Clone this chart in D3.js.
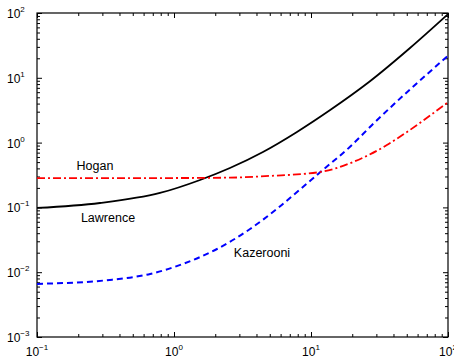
<!DOCTYPE html>
<html>
<head>
<meta charset="utf-8">
<script src="https://cdn.jsdelivr.net/npm/d3@7"></script>
<style>
    body { margin: 0; background: #fff; }
    text { font-family: "Liberation Sans", Arial, sans-serif; fill: #000; }
</style>
</head>
<body>
<script>
// values
const lawrenceX = [0.1, 0.288, 0.79, 1.55, 2.56, 4.46, 7.9, 13.8, 26.5, 52.8, 100];
const lawrenceY = [0.098, 0.117, 0.167, 0.265, 0.405, 0.716, 1.46, 3.18, 8.6, 28.8, 96];

const kazerooniX = [0.1, 0.34, 0.67, 1.16, 2.06, 3.59, 5.75, 8.73, 12.2, 19.2, 27.9, 100];
const kazerooniY = [0.0066, 0.0076, 0.0094, 0.0134, 0.0228, 0.0464, 0.098, 0.207, 0.378, 0.855, 1.87, 22];

const hoganX = [0.1, 1, 2.56, 5, 11.7, 20.3, 35.8, 43.2, 100];
const hoganY = [0.284, 0.284, 0.288, 0.306, 0.352, 0.502, 0.918, 1.18, 4.2];

const xExponents = [-1, 0, 1, 2];
const yExponents = [-3, -2, -1, 0, 1, 2];

const seriesNames = ["Lawrence", "Kazerooni", "Hogan"];
const labelAt = [[0.33, 0.0596], [4.39, 0.0172], [0.265, 0.378]];  // data coords of the text labels (baseline)

const W = 454, H = 363;
const plot = { left: 37, right: 448, top: 13, bottom: 337 };

const svg = d3.select("body").append("svg")
    .attr("width", W)
    .attr("height", H);

const x = d3.scaleLog().domain([0.1, 100]).range([plot.left, plot.right]);
const y = d3.scaleLog().domain([1e-3, 1e2]).range([plot.bottom, plot.top]);

const majorX = xExponents.map(e => Math.pow(10, e));
const majorY = yExponents.map(e => Math.pow(10, e));
const minorX = x.ticks().filter(t => !majorX.some(m => Math.abs(m - t) < 1e-9));
const minorY = y.ticks().filter(t => !majorY.some(m => Math.abs(m - t) < 1e-9));

// ticks inside the box, on all four sides
function tickAxis(axisFn, scale, vals, size, transform) {
    const g = svg.append("g")
        .attr("transform", transform)
        .call(axisFn(scale).tickValues(vals).tickSizeInner(-size).tickSizeOuter(0).tickFormat(""));
    g.select(".domain").remove();
    g.selectAll("line").attr("stroke", "#000").attr("stroke-width", 1);
}

[[minorX, 3], [majorX, 5]].forEach(([vals, s]) => {
    tickAxis(d3.axisBottom, x, vals, s, "translate(0," + plot.bottom + ")");
    tickAxis(d3.axisTop, x, vals, s, "translate(0," + plot.top + ")");
});
[[minorY, 3], [majorY, 5]].forEach(([vals, s]) => {
    tickAxis(d3.axisLeft, y, vals, s, "translate(" + plot.left + ",0)");
    tickAxis(d3.axisRight, y, vals, s, "translate(" + plot.right + ",0)");
});

svg.append("rect")
    .attr("x", plot.left)
    .attr("y", plot.top)
    .attr("width", plot.right - plot.left)
    .attr("height", plot.bottom - plot.top)
    .attr("fill", "none")
    .attr("stroke", "#000")
    .attr("stroke-width", 1.2);

// tick labels 10^n
const xl = svg.selectAll(".xlab")
    .data(xExponents)
    .enter().append("text")
    .attr("class", "xlab")
    .attr("x", e => x(Math.pow(10, e)))
    .attr("y", 356)
    .attr("text-anchor", "middle")
    .style("font-size", "12px");
xl.append("tspan").text("10");
xl.append("tspan").attr("dy", -6).style("font-size", "8px").text(e => e < 0 ? "\u2212" + (-e) : e);

const yl = svg.selectAll(".ylab")
    .data(yExponents)
    .enter().append("text")
    .attr("class", "ylab")
    .attr("x", 7)
    .attr("y", e => y(Math.pow(10, e)) + 5)
    .style("font-size", "12px");
yl.append("tspan").text("10");
yl.append("tspan").attr("dy", -6).style("font-size", "8px").text(e => e < 0 ? "\u2212" + (-e) : e);

// curves
const line = d3.line()
    .x(d => x(d[0]))
    .y(d => y(d[1]))
    .curve(d3.curveMonotoneX);

const series = [
    { xs: lawrenceX, ys: lawrenceY, color: "#000", dash: null, width: 1.8 },
    { xs: kazerooniX, ys: kazerooniY, color: "#0000ff", dash: "6,4", width: 2 },
    { xs: hoganX, ys: hoganY, color: "#ff0000", dash: "8,3,2,3", width: 1.8 }
];

svg.selectAll(".curve")
    .data(series)
    .enter().append("path")
    .attr("class", "curve")
    .attr("d", s => line(s.xs.map((v, i) => [v, s.ys[i]])))
    .attr("fill", "none")
    .attr("stroke", s => s.color)
    .attr("stroke-width", s => s.width)
    .attr("stroke-dasharray", s => s.dash);

svg.selectAll(".name")
    .data(seriesNames)
    .enter().append("text")
    .attr("class", "name")
    .attr("x", (d, i) => x(labelAt[i][0]))
    .attr("y", (d, i) => y(labelAt[i][1]))
    .attr("text-anchor", "middle")
    .style("font-size", "12.5px")
    .text(d => d);
</script>
</body>
</html>
